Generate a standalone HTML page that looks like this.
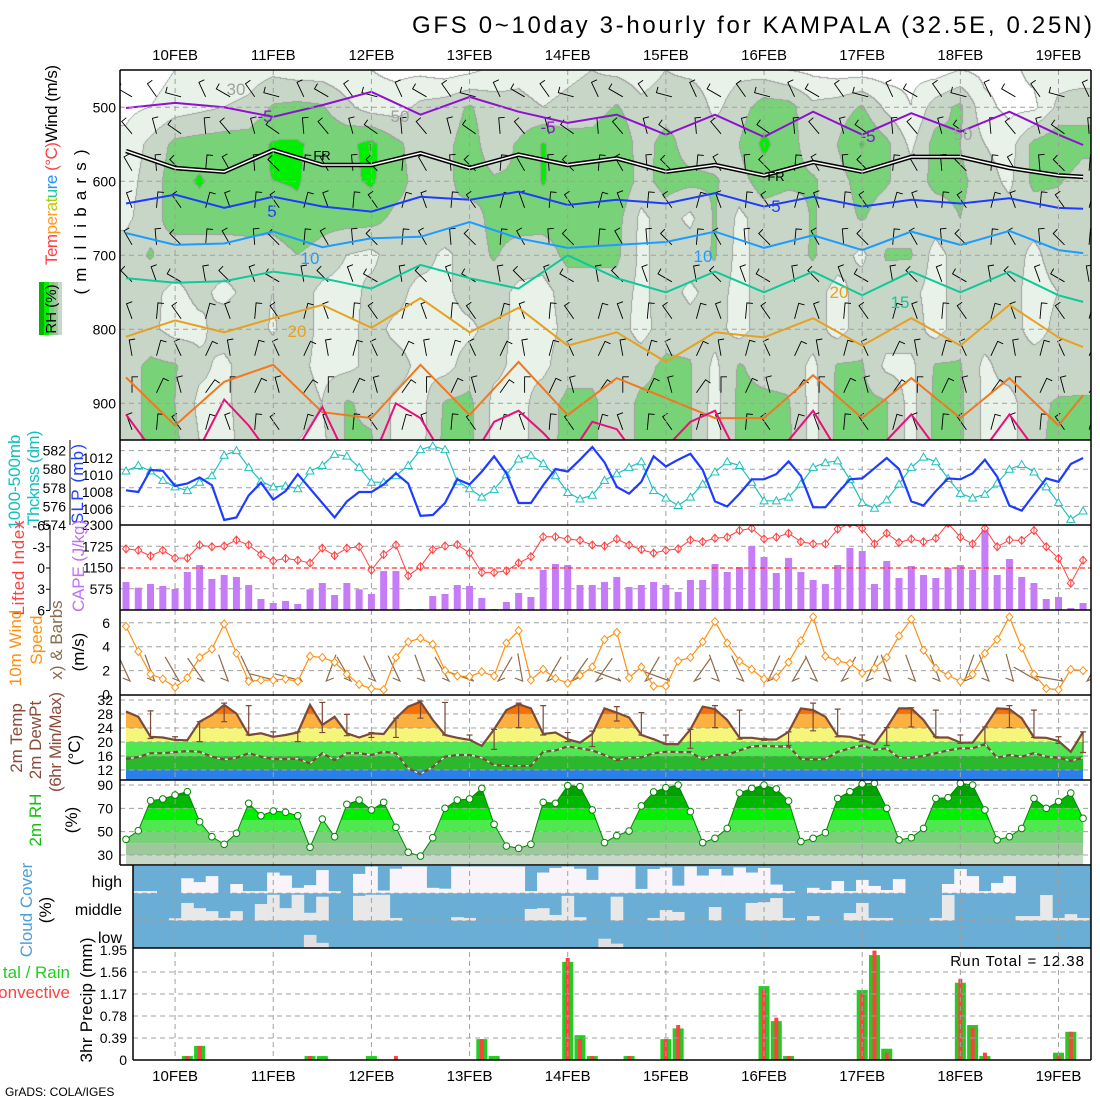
<!DOCTYPE html>
<html><head><meta charset="utf-8">
<style>
html,body{margin:0;padding:0;background:#fff;}
#wrap{position:relative;width:1100px;height:1100px;overflow:hidden;font-family:"Liberation Sans",sans-serif;}
#rhc{position:absolute;left:120px;top:70px;}
#chart{position:absolute;left:0;top:0;}
text{font-family:"Liberation Sans",sans-serif;}
</style></head>
<body>
<div id="wrap">
<canvas id="rhc" width="971" height="370"></canvas>
<svg id="chart" width="1100" height="1100" xmlns="http://www.w3.org/2000/svg">
<defs>
<clipPath id="cTop"><rect x="120" y="70" width="971" height="370"/></clipPath>
<clipPath id="cThk"><rect x="120" y="440" width="971" height="85"/></clipPath>
<clipPath id="cCape"><rect x="120" y="525" width="971" height="85"/></clipPath>
<clipPath id="cWind"><rect x="120" y="610" width="971" height="85"/></clipPath>
<clipPath id="cTemp"><rect x="120" y="695" width="971" height="85"/></clipPath>
<clipPath id="cRh"><rect x="120" y="780" width="971" height="85"/></clipPath>
</defs>
<text x="1092" y="33" text-anchor="end" font-family="Liberation Mono, monospace" font-size="24" textLength="680">GFS 0~10day 3-hourly for KAMPALA (32.5E, 0.25N)</text>

<g id="gTop"></g>
<g id="gThk"></g>
<g id="gCape"></g>
<g id="gWind"></g>
<g id="gTemp"></g>
<g id="gRh"></g>
<g id="gCloud"></g>
<g id="gPrec"></g>
<g id="gGrid"></g>
<g id="gSer"></g>
<g id="gAxes"></g>

<!-- left labels -->
<text transform="translate(57,165) rotate(-90)" text-anchor="middle" font-size="17" textLength="200"><tspan fill="#ff4040">Tem</tspan><tspan fill="#ff9a20">per</tspan><tspan fill="#b8c800">at</tspan><tspan fill="#20c8a0">u</tspan><tspan fill="#2090ff">re</tspan><tspan fill="#ff4040"> (°C)</tspan><tspan fill="#000">Wind (m/s)</tspan></text>
<text transform="translate(86,222) rotate(-90)" text-anchor="middle" font-size="17" textLength="145">(millibars)</text>
<g>
<rect x="39" y="282" width="5" height="53" fill="#00b400"/><rect x="44" y="282" width="5" height="53" fill="#00ee00"/><rect x="49" y="282" width="5" height="53" fill="#78d078"/><rect x="54" y="282" width="4" height="53" fill="#9cc89c"/><rect x="58" y="282" width="4" height="53" fill="#c8d8c8"/>
<text transform="translate(56,309) rotate(-90)" text-anchor="middle" font-size="15">RH (%)</text>
</g>
<text transform="translate(20,482) rotate(-90)" text-anchor="middle" font-size="17" fill="#10c0c0" textLength="95">1000-500mb</text>
<text transform="translate(39,478) rotate(-90)" text-anchor="middle" font-size="17" fill="#10c0c0" textLength="95">Thcknss (dm)</text>
<text transform="translate(83,484) rotate(-90)" text-anchor="middle" font-size="17" fill="#2040ff" textLength="80">SLP (mb)</text>
<text transform="translate(24,568) rotate(-90)" text-anchor="middle" font-size="17" fill="#ff4040" textLength="95">Lifted Index</text>
<text transform="translate(84,566) rotate(-90)" text-anchor="middle" font-size="17" fill="#c070f0" textLength="92">CAPE (J/kg)</text>
<text transform="translate(21,648) rotate(-90)" text-anchor="middle" font-size="17" fill="#ff9010">10m Wind</text>
<text transform="translate(42,640) rotate(-90)" text-anchor="middle" font-size="17" fill="#ff9010">Speed</text>
<text transform="translate(62,640) rotate(-90)" text-anchor="middle" font-size="17" fill="#8b6b4b">x) &amp; Barbs</text>
<text transform="translate(84,652) rotate(-90)" text-anchor="middle" font-size="17">(m/s)</text>
<text transform="translate(22,738) rotate(-90)" text-anchor="middle" font-size="17" fill="#8b4a3a">2m Temp</text>
<text transform="translate(41,740) rotate(-90)" text-anchor="middle" font-size="17" fill="#8b4a3a">2m DewPt</text>
<text transform="translate(61,742) rotate(-90)" text-anchor="middle" font-size="17" fill="#8b4a3a" textLength="100">(6hr Min/Max)</text>
<text transform="translate(80,750) rotate(-90)" text-anchor="middle" font-size="17">(°C)</text>
<text transform="translate(41,820) rotate(-90)" text-anchor="middle" font-size="17" fill="#10c010">2m RH</text>
<text transform="translate(77,820) rotate(-90)" text-anchor="middle" font-size="17">(%)</text>
<text transform="translate(32,910) rotate(-90)" text-anchor="middle" font-size="17" fill="#4aa0d8">Cloud Cover</text>
<text transform="translate(51,910) rotate(-90)" text-anchor="middle" font-size="17">(%)</text>
<text x="122" y="887" text-anchor="end" font-size="16">high</text>
<text x="122" y="915" text-anchor="end" font-size="16">middle</text>
<text x="122" y="943" text-anchor="end" font-size="16">low</text>
<text x="70" y="978" text-anchor="end" font-size="17" fill="#22cc22">tal / Rain</text>
<text x="70" y="998" text-anchor="end" font-size="17" fill="#ff4040">Convective</text>
<text transform="translate(92,1000) rotate(-90)" text-anchor="middle" font-size="17" textLength="125">3hr Precip (mm)</text>
<text x="1085" y="966" text-anchor="end" font-size="15" letter-spacing="1">Run Total = 12.38</text>
<text x="5" y="1096" font-size="12">GrADS: COLA/IGES</text>
</svg>
</div>
<script>
// ---------- data ----------
const days=['10FEB','11FEB','12FEB','13FEB','14FEB','15FEB','16FEB','17FEB','18FEB','19FEB'];
const dayIdx=[4,12,20,28,36,44,52,60,68,76];
const slp=[1008.2,1008.0,1010.6,1010.5,1008.7,1009.0,1009.7,1008.8,1004.7,1005.0,
1007.6,1009.1,1007.1,1008.1,1010.1,1008.4,1006.7,1005.0,1006.9,1008.0,
1008.0,1008.9,1010.2,1009.0,1005.2,1005.3,1006.7,1009.5,1008.9,1010.4,
1012.2,1010.2,1006.7,1006.7,1008.8,1010.7,1010.4,1011.8,1013.3,1011.5,
1008.6,1007.8,1009.2,1012.2,1011.0,1011.8,1012.5,1010.6,1006.9,1006.3,
1007.8,1009.5,1009.5,1010.1,1011.6,1009.9,1006.2,1006.2,1007.9,1009.5,
1009.6,1010.8,1012.0,1010.7,1006.9,1006.4,1008.1,1009.6,1009.5,1010.2,
1011.8,1009.8,1006.4,1005.8,1007.7,1009.6,1009.2,1011.3,1012.0];
const thick=[579.8,580.4,579.8,578.8,578.1,577.7,578.6,579.3,581.5,582.0,
580.2,578.7,578.1,578.2,577.9,579.8,580.4,581.6,581.4,580.2,
578.6,578.6,579.3,580.4,582.1,582.5,582.1,578.7,577.9,577.0,
577.8,579.4,581.1,581.5,580.6,579.3,577.5,576.8,577.2,578.8,
579.5,580.2,580.8,577.7,576.9,576.1,577.0,578.4,579.7,580.8,
580.4,578.6,576.6,576.6,577.0,578.4,580.2,580.7,580.9,578.9,
576.4,575.8,576.7,578.4,580.2,581.3,580.8,579.0,577.4,576.9,
577.3,578.5,580.0,580.5,579.7,578.1,576.4,574.6,575.5];
const cape=[757,604,703,649,568,1028,1218,839,947,893,
676,298,189,244,162,559,730,406,730,559,
433,1055,1055,27,27,379,433,676,649,325,
27,217,460,352,1082,1244,1218,676,676,757,
893,622,676,757,676,487,812,812,1244,1028,
1163,1731,1434,1001,1407,1028,812,703,1218,1677,
1596,703,1325,866,1190,947,866,1136,1218,1082,
2164,947,1380,893,730,298,352,54,189];
const li=[-2.7,-2.5,-1.7,-2.5,-1.4,-1.4,-3.25,-3.0,-3.1,-3.95,
-3.25,-1.9,-1.0,-1.35,-1.1,-0.7,-2.8,-1.75,-2.8,-3.0,
0.3,-1.9,-3.25,1.1,-0.2,-2.6,-3.1,-3.3,-2.1,0.65,
0.65,0.4,-0.7,-1.6,-4.4,-4.4,-4.1,-3.9,-3.25,-3.1,
-4.1,-3.25,-2.6,-2.1,-2.5,-2.7,-3.95,-3.7,-4.2,-4.35,
-5.3,-5.6,-4.1,-4.35,-4.9,-3.7,-3.4,-3.4,-5.5,-6.3,
-5.6,-3.4,-4.9,-3.6,-4.1,-3.7,-4.2,-6.3,-4.35,-3.4,
-5.6,-3.0,-3.95,-3.9,-5.3,-3.0,-1.35,2.15,-1.1];
const wspd=[5.7,3.6,1.7,1.3,0.6,1.4,3.1,3.8,5.9,3.45,
1.1,1.2,1.2,1.3,1.1,3.2,3.1,2.7,1.7,0.85,
0.5,0.4,3.1,4.4,4.7,4.2,2.0,1.55,1.5,1.9,
1.55,4.3,5.35,1.2,2.1,1.35,0.95,1.6,2.3,4.6,
5.2,1.4,2.3,0.7,0.7,2.8,3.1,4.4,6.1,4.3,
2.8,2.1,1.3,1.45,2.7,4.5,6.5,3.2,2.8,2.6,
1.8,2.2,3.1,4.9,6.3,3.7,2.2,1.6,1.1,1.7,
3.45,4.6,6.5,3.9,1.7,0.5,0.4,2.1,2.0];
const sfcBarbDir=[-25,-20,-30,-35,-20,-25,-75,-75,20,-30,-25,-25,-20,-30,-70,30,-10,30,35,35,-70,30,-70,35,-20,-25,25,30,-25,30,25,-20,-20,-20,20,-20,-15,-60,-80,30];
const temp=[28.7,27.2,21.5,21.3,20.6,20.5,25.8,27.7,30.6,28.1,
22.0,22.5,21.5,22.0,22.7,30.6,24.9,27.2,22.5,21.3,
22.5,22.3,26.8,30.1,31.5,26.3,22.0,21.2,20.6,18.9,
23.6,29.1,30.8,29.6,22.3,22.7,20.8,19.8,22.3,29.6,
28.4,27.0,22.0,20.8,19.4,19.4,23.6,30.1,29.4,26.3,
21.2,21.2,20.7,20.7,22.9,29.6,29.1,27.2,21.7,21.5,
20.6,19.4,24.1,29.6,29.6,26.3,21.3,21.3,19.8,19.8,
24.3,29.6,29.4,26.8,21.3,21.2,20.3,17.2,22.9];
const dewp=[15.1,15.7,16.8,16.8,17.1,17.4,17.2,15.8,15.0,15.5,
16.8,15.8,15.1,15.1,15.2,13.9,16.8,14.8,16.8,16.8,
16.3,17.2,16.8,12.5,10.8,12.9,15.8,16.3,16.3,15.5,
13.4,13.2,13.2,13.2,17.2,17.6,18.7,18.2,17.6,16.3,
14.8,15.5,15.6,16.8,17.2,17.1,17.1,15.0,16.3,16.3,
17.6,18.7,18.9,18.7,18.7,15.1,15.0,15.1,17.2,18.2,
19.0,17.8,18.2,15.5,15.5,16.0,16.8,17.6,18.2,18.2,
19.4,15.5,16.3,15.8,16.8,15.8,15.5,14.6,15.5];
const tmax6=[28.9,21.5,25.8,31.1,30.4,22.9,22.9,31.3,27.9,22.7,26.8,31.7,31.3,22.0,23.6,31.1,30.4,22.7,23.1,30.1,28.4,22.0,23.6,30.4,29.1,21.0,22.9,31.1,29.4,22.0,24.1,29.8,29.1,22.0,24.3,30.4,29.1,21.5,22.9];
const tmin6=[21.0,20.6,20.1,25.8,22.0,21.5,20.1,22.7,21.8,21.3,21.3,26.8,22.0,20.6,17.9,24.1,22.0,20.1,18.7,26.0,22.0,19.4,18.2,24.1,20.8,20.5,19.0,23.2,21.5,20.1,19.0,24.3,21.5,19.6,19.0,24.1,21.3,19.6,17.0];
const rh2m=[43.4,50.8,76.5,78.0,81.4,84.3,58.5,45.7,39.2,48.6,
74.3,63.7,67.7,66.6,63.7,36.6,60.8,45.7,73.4,77.1,
68.6,75.2,53.7,32.3,29.1,44.8,70.0,77.1,78.0,87.1,
56.3,37.7,35.7,39.2,75.2,74.3,89.4,88.6,68.6,40.6,
46.6,50.5,72.0,84.0,87.7,89.9,67.2,40.6,44.3,52.8,
83.1,87.1,89.9,86.6,76.3,41.5,44.3,49.1,78.5,84.3,
90.9,91.4,70.0,42.9,44.8,52.8,78.5,79.1,91.4,89.9,
68.6,42.9,45.7,52.8,78.5,70.0,75.8,83.1,61.4];
const cloudHigh=[0,8,8,0,0,55,41,63,0,34,
8,8,76,65,20,30,85,8,0,71,
98,10,90,98,98,20,17,98,98,98,
98,98,98,8,76,93,98,90,49,98,
98,98,16,89,95,28,98,65,89,65,
95,76,93,32,8,0,20,12,45,8,
49,27,12,52,0,0,0,34,89,63,
8,38,63,0,0,0,0,0,0];
const cloudMid=[0,0,0,0,9,65,46,35,10,35,
0,61,95,46,95,29,88,0,0,91,
95,95,10,0,0,0,0,13,10,0,
0,0,0,43,46,21,91,13,0,0,
88,0,0,10,39,32,0,0,50,0,
0,65,68,83,10,0,17,0,0,28,
65,10,10,0,0,0,10,94,0,0,
0,0,0,17,17,94,10,24,10];
const cloudLow=[0,0,0,0,0,0,0,0,0,0,
0,0,0,0,0,48,19,0,0,0,
0,0,0,0,0,0,0,0,0,0,
0,0,0,0,0,0,0,0,0,34,
16,0,0,0,0,0,0,0,0,0,
0,0,0,0,0,0,0,0,0,0,
0,0,0,0,0,0,0,0,0,0,
0,0,0,0,0,0,0,0,0];
const precTotal=[0,0,0,0,0,.07,.25,0,0,0,
0,0,0,0,0,.07,.07,0,0,0,
.07,0,0,0,0,0,0,0,0,.37,
.07,0,0,0,0,0,1.74,.44,.07,0,
0,.07,0,0,.37,.56,0,0,0,0,
0,0,1.31,.69,.07,0,0,0,0,0,
1.24,1.86,.2,0,0,0,0,0,1.37,.62,
.07,0,0,0,0,0,.13,.5,0];
const precConv=[0,0,0,0,0,.07,.25,0,0,0,
0,0,0,0,0,.07,0,0,0,0,
0,0,.07,0,0,0,0,0,0,.37,
0,0,0,0,0,0,1.81,.37,.07,0,
0,.07,0,0,.37,.62,0,0,0,0,
0,0,1.24,.75,.07,0,0,0,0,0,
1.18,1.94,.13,0,0,0,0,0,1.44,.57,
.13,0,0,0,0,0,.07,.5,0];
// cross-section RH (rows = pressure levels, cols = every 6h)
const rhLevels=[450,500,550,600,650,700,750,800,850,900,950];
const rh450=[20,20,30,40,35,40,45,40,40,35,30,25,25,20,25,35,45,40,45,50,45,40,50,45,40,45,40,30,25,20,20,20,25,20,30,25,25,35,40,35];
const rh500=[25,30,40,45,50,55,72,75,72,55,40,40,55,60,72,60,55,50,55,60,72,55,60,65,45,60,80,78,55,60,72,45,30,60,75,35,25,25,55,65];
const rh550=[35,55,75,78,80,80,92,92,85,85,96,75,60,65,78,60,72,92,80,78,90,60,78,60,60,70,95,78,60,70,92,75,45,78,70,50,40,75,85,75];
const rh600=[40,60,80,93,80,88,90,92,80,85,93,78,62,65,78,72,72,92,80,75,90,62,78,75,72,62,80,75,72,62,78,72,60,75,75,60,45,75,72,62];
const rh650=[45,62,78,78,78,78,78,85,78,78,78,65,62,70,62,75,78,78,78,78,78,45,60,45,72,45,60,55,72,60,72,60,60,60,70,60,60,58,60,60];
const rh700=[60,72,60,60,60,62,60,70,62,50,45,60,60,45,60,72,62,60,75,75,75,45,60,62,72,42,60,60,72,60,45,72,72,42,60,60,60,45,60,60];
const rh750=[60,55,45,55,45,55,50,60,45,42,55,58,42,45,60,60,45,42,60,60,60,45,60,45,60,42,60,60,60,42,60,60,55,42,60,60,58,42,50,60];
const rh800=[60,55,42,45,60,60,48,60,45,42,58,45,42,42,45,58,45,42,55,60,60,42,60,60,58,42,60,60,60,42,60,60,60,42,60,60,60,42,55,60];
const rh850=[60,75,72,55,45,60,60,55,45,45,55,58,45,42,60,55,45,45,62,62,60,62,75,72,45,72,62,62,45,72,72,45,45,72,72,45,60,60,60,62];
const rh900=[60,75,70,45,45,60,60,58,50,72,65,45,42,72,75,45,42,60,75,75,55,75,75,72,42,75,75,72,42,75,75,72,42,75,75,45,42,65,72,72];
const rh950=[60,75,75,50,42,60,60,50,45,72,72,45,42,75,75,45,42,62,75,75,55,75,75,72,42,75,75,75,42,75,75,72,42,75,75,45,42,65,75,75];
// isotherms: pressure (mb) at time indices
const isoIdx=[0,4,8,12,16,20,24,28,32,36,40,44,48,52,56,60,64,68,72,76,78];
const isoM5=[501,494,500,513,497,479,510,486,506,521,510,537,510,540,506,537,508,533,506,537,551];
const isoFR=[559,582,587,558,578,578,562,582,564,578,569,587,578,592,574,587,567,567,582,592,594];
const isoP5=[630,618,636,621,634,641,621,625,614,632,625,630,616,634,621,634,625,630,623,636,637];
const isoP10=[670,686,684,668,689,677,675,655,677,690,686,682,668,690,673,693,668,686,667,693,697];
const isoP15=[731,737,735,722,731,745,713,731,745,700,731,750,722,750,722,754,722,750,722,754,763];
const isoP20=[810,788,804,785,767,798,758,804,771,822,804,844,804,811,785,822,785,822,767,811,824];
const isoP25=[865,930,871,848,912,920,848,916,844,916,866,893,920,920,862,920,866,920,866,930,889];
const isoP30=[915,960,980,960,895,930,975,960,905,975,980,900,920,975,980,925,910,940,975,925,935,980,960,925,910,975,980,950,910,965,980,950,915,960,980,960,915,960,980,980];
const topBarbDir=[-60,-40,-30,-20,-30,-45,-20,-10,0,-20];
const barbWiggle=[0,25,-15,35];

// ---------- helpers ----------
const NS='http://www.w3.org/2000/svg';
function mk(tag,attrs,parent){const e=document.createElementNS(NS,tag);for(const k in attrs)e.setAttribute(k,attrs[k]);parent.appendChild(e);return e;}
const X0=126, DX=12.27;
function xAt(i){return X0+DX*i;}
const yP=p=>107.3+(p-500)*0.74;
const ySlp=v=>475-(v-1010)*8.5;
const yThk=v=>525-(v-574)*9.3;
const yCape=v=>610-v/2300*85;
const yLi=v=>568+v*7.08;
const yW=v=>694.5-v*11.95;
const yT=v=>742-(v-20)*3.5;
const yRh=v=>855-(v-30)*1.167;
const yPr=v=>1060-v*56.4;
const gTop=document.getElementById('gTop'),gThk=document.getElementById('gThk'),gCape=document.getElementById('gCape'),gWind=document.getElementById('gWind'),gTemp=document.getElementById('gTemp'),gRh=document.getElementById('gRh'),gCloud=document.getElementById('gCloud'),gPrec=document.getElementById('gPrec'),gGrid=document.getElementById('gGrid'),gSer=document.getElementById('gSer'),gAxes=document.getElementById('gAxes');
const GRID='#a0a0a0';

// ---------- RH cross-section field (canvas) ----------
(function(){
  const grid=[rh450,rh500,rh550,rh600,rh650,rh700,rh750,rh800,rh850,rh900,rh950];
  const cols=[[255,255,255],[232,242,232],[200,214,200],[120,210,120],[0,238,0],[0,176,0]];
  function band(v){return v<30?0:v<50?1:v<70?2:v<90?3:v<95?4:5;}
  const cv=document.getElementById('rhc');const ctx=cv.getContext('2d');
  const W=cv.width,H=cv.height;const img=ctx.createImageData(W,H);const b=new Uint8Array(W*H);
  const nc=grid[0].length-1, nr=grid.length-1;
  for(let cy=0;cy<H;cy++){
    const y=70+cy+0.5; const p=500+(y-107.3)/0.74;
    let r=(p-rhLevels[0])/50; r=Math.max(0,Math.min(nr,r)); const r0=Math.min(nr-1,Math.floor(r)), fr=r-r0;
    for(let cx=0;cx<W;cx++){
      const x=120+cx+0.5; let c=(x-X0)/(DX*2); c=Math.max(0,Math.min(nc,c));
      const c0=Math.min(nc-1,Math.floor(c)), fc=c-c0;
      const v=(grid[r0][c0]*(1-fc)+grid[r0][c0+1]*fc)*(1-fr)+(grid[r0+1][c0]*(1-fc)+grid[r0+1][c0+1]*fc)*fr;
      b[cy*W+cx]=band(v);
    }
  }
  for(let cy=0;cy<H;cy++)for(let cx=0;cx<W;cx++){
    const k=cy*W+cx; let col=cols[b[k]];
    if((cx<W-1&&b[k]!==b[k+1])||(cy<H-1&&b[k]!==b[k+W])) col=[160,160,160];
    img.data[k*4]=col[0];img.data[k*4+1]=col[1];img.data[k*4+2]=col[2];img.data[k*4+3]=255;
  }
  ctx.putImageData(img,0,0);
})();

// ---------- top panel: isotherms & barbs ----------
(function(){
  const clip=mk('g',{'clip-path':'url(#cTop)'},gTop);
  
  
  // barbs
  for(let li2=0;li2<10;li2++){
    const p=475+50*li2;
    for(let j=0;j<40;j++){
      const bx=xAt(2*j)+6, by=yP(p)+8;
      const a=(topBarbDir[li2]+barbWiggle[j%4])*Math.PI/180;
      const tx=bx+16*Math.sin(a), ty=by-16*Math.cos(a);
      const fx=tx+6*Math.cos(a), fy=ty+6*Math.sin(a);
      const e=mk('path',{d:`M${bx.toFixed(1)},${by.toFixed(1)}L${tx.toFixed(1)},${ty.toFixed(1)}L${fx.toFixed(1)},${fy.toFixed(1)}`,stroke:'#000','stroke-width':0.9,fill:'none'},clip);
      
      
    }
  }
  function iso(arr,idx,color,w,name){
    const pts=arr.map((p,k)=>xAt(idx[k]).toFixed(1)+','+yP(p).toFixed(1)).join(' ');
    if(name==='isotherm-freezing'){
      const e0=mk('polyline',{points:pts,fill:'none',stroke:'#000','stroke-width':4.5},clip);
      
      
      const e1=mk('polyline',{points:pts,fill:'none',stroke:'#fff','stroke-width':1.5},clip);
      
      
      return;
    }
    const e=mk('polyline',{points:pts,fill:'none',stroke:color,'stroke-width':w},clip);
    
    
  }
  const idx2=isoP30.map((_,k)=>2*k);
  iso(isoM5,isoIdx,'#9010d0',2,'isotherm-minus5');
  iso(isoFR,isoIdx,'#000',2,'isotherm-freezing');
  iso(isoP5,isoIdx,'#1e3cff',2,'isotherm-5');
  iso(isoP10,isoIdx,'#1e9bff',2,'isotherm-10');
  iso(isoP15,isoIdx,'#10c898',2,'isotherm-15');
  iso(isoP20,isoIdx,'#e8a020',2,'isotherm-20');
  iso(isoP25,isoIdx,'#f07820',2,'isotherm-25');
  iso(isoP30,idx2,'#e8107a',2,'isotherm-30');
  const labs=[['-5',265,122,'#9010d0'],['-5',548,133,'#9010d0'],['-5',868,142,'#9010d0'],['FR',322,160,'#000'],['FR',776,181,'#000'],['5',272,217,'#1e3cff'],['5',776,212,'#1e3cff'],['10',310,264,'#1e9bff'],['10',703,262,'#1e9bff'],['20',297,337,'#e8a020'],['20',839,298,'#e8a020'],['15',900,308,'#10c898'],['30',236,95,'#a0a0a0'],['50',400,122,'#a0a0a0'],['50',963,140,'#a0a0a0']];
  labs.forEach(l=>{
    const t=mk('text',{x:l[1],y:l[2],'text-anchor':'middle','font-size':l[0]==='FR'?13:17,fill:l[3]},clip);
    t.textContent=l[0];
    
    
  });
})();

// ---------- grid lines ----------
(function(){
  dayIdx.forEach((d,k)=>{
    const x=xAt(d);
    const e=mk('line',{x1:x,y1:70,x2:x,y2:1060,stroke:GRID,'stroke-dasharray':'5,4','stroke-width':1},gGrid);
    
    
    const t1=mk('text',{x:x,y:60,'text-anchor':'middle','font-size':15},gAxes);
    t1.textContent=days[k];
    
    
    const t2=mk('text',{x:x,y:1081,'text-anchor':'middle','font-size':15},gAxes);
    t2.textContent=days[k];
    
    
  });
  function hline(y,x0,name){
    const e=mk('line',{x1:x0,y1:y,x2:1091,y2:y,stroke:GRID,'stroke-dasharray':'5,4','stroke-width':1},gGrid);
    
    
  }
  [500,600,700,800,900].forEach(p=>hline(yP(p),120,'pressure-gridline'));
  [582,580,578,576].forEach(v=>hline(yThk(v),120,'thickness-gridline'));
  [1725,575].forEach(v=>hline(yCape(v),120,'cape-gridline'));
  [2,4,6].forEach(v=>hline(yW(v),120,'wind-gridline'));
  [12,16,20,24,28,32].forEach(v=>hline(yT(v),120,'temp-gridline'));
  [30,50,70,90].forEach(v=>hline(yRh(v),120,'rh-gridline'));
  [893.3,920.7,948].forEach(v=>hline(v,133,'cloud-gridline'));
  [0.39,0.78,1.17,1.56].forEach(v=>hline(yPr(v),133,'precip-gridline'));
})();

// ---------- thickness / SLP ----------
(function(){
  const g=mk('g',{'clip-path':'url(#cThk)'},gSer);
  
  
  const tl=mk('polyline',{points:thick.map((v,i)=>xAt(i).toFixed(1)+','+yThk(v).toFixed(1)).join(' '),fill:'none',stroke:'#20c0c0','stroke-width':1.2},g);
  
  
  thick.forEach((v,i)=>{
    const x=xAt(i),y=yThk(v);
    const m=mk('path',{d:`M${x-4},${y+3}L${x},${y-4}L${x+4},${y+3}Z`,fill:'#fff',stroke:'#20c0c0','stroke-width':1},g);
    
    
  });
  const sl=mk('polyline',{points:slp.map((v,i)=>xAt(i).toFixed(1)+','+ySlp(v).toFixed(1)).join(' '),fill:'none',stroke:'#1e3cff','stroke-width':2.2},g);
  
  
})();

// ---------- CAPE / LI ----------
(function(){
  const g=mk('g',{'clip-path':'url(#cCape)'},gSer);
  
  
  cape.forEach((v,i)=>{
    const y=yCape(v);
    const r=mk('rect',{x:xAt(i)-3.5,y:y,width:7,height:610-y,fill:'#c67cf6'},g);
    
    
  });
  const z=mk('line',{x1:120,y1:yLi(0),x2:1091,y2:yLi(0),stroke:'#ff3030','stroke-dasharray':'5,3','stroke-width':1.3},g);
  
  
  const l=mk('polyline',{points:li.map((v,i)=>xAt(i).toFixed(1)+','+yLi(v).toFixed(1)).join(' '),fill:'none',stroke:'#ff4040','stroke-width':1},g);
  
  
  li.forEach((v,i)=>{
    const x=xAt(i),y=yLi(v);
    const m=mk('path',{d:`M${x},${y-4}L${x+3.5},${y}L${x},${y+4}L${x-3.5},${y}ZM${x},${y-4}V${y+4}`,fill:'#fff',stroke:'#ff4040','stroke-width':1},g);
    
    
  });
})();

// ---------- wind ----------
(function(){
  const g=mk('g',{'clip-path':'url(#cWind)'},gSer);
  
  
  sfcBarbDir.forEach((d,k)=>{
    const bx=xAt(2*k)+4, by=681;
    const a=d*Math.PI/180;
    const tx=bx+28*Math.sin(a), ty=by-28*Math.cos(a);
    const fx=bx+8*Math.cos(a)*(d<0?-1:1), fy=by;
    const e=mk('path',{d:`M${tx.toFixed(1)},${ty.toFixed(1)}L${bx.toFixed(1)},${by}L${fx.toFixed(1)},${fy-3}`,stroke:'#8b6b4b','stroke-width':1.2,fill:'none'},g);
    
    
  });
  const l=mk('polyline',{points:wspd.map((v,i)=>xAt(i).toFixed(1)+','+yW(v).toFixed(1)).join(' '),fill:'none',stroke:'#ff9010','stroke-width':1.2},g);
  
  
  wspd.forEach((v,i)=>{
    const x=xAt(i),y=yW(v);
    const m=mk('path',{d:`M${x},${y-4}L${x+3.5},${y}L${x},${y+4}L${x-3.5},${y}Z`,fill:'#fff',stroke:'#ff9010','stroke-width':1},g);
    
    
  });
})();

// ---------- temperature ----------
(function(){
  const defs=document.querySelector('defs');
  const cp=mk('clipPath',{id:'cTempArea'},defs);
  const area='M'+xAt(0)+',780 '+temp.map((v,i)=>'L'+xAt(i).toFixed(1)+','+yT(v).toFixed(1)).join(' ')+' L'+xAt(78)+',780Z';
  mk('path',{d:area},cp);
  const g=mk('g',{'clip-path':'url(#cTempArea)'},gTemp);
  
  
  const bands=[[8,12,'#2a80e8'],[12,16,'#2cb82c'],[16,20,'#50e850'],[20,24,'#f5f57a'],[24,28,'#fbb040'],[28,40,'#f87000']];
  bands.forEach(b=>{
    const r=mk('rect',{x:120,y:yT(b[1]),width:971,height:yT(b[0])-yT(b[1]),fill:b[2]},g);
    
    
  });
  const s=mk('g',{'clip-path':'url(#cTemp)'},gSer);
  
  
  tmax6.forEach((v,k)=>{
    const x=xAt(2*k+2), y1=yT(v), y2=yT(tmin6[k]);
    const e=mk('path',{d:`M${x},${y1}V${y2}M${x-3},${y1}H${x+3}M${x-3},${y2}H${x+3}`,stroke:'#7a4a3a','stroke-width':1.2,fill:'none'},s);
    
    
  });
  const dpts=dewp.map((v,i)=>xAt(i).toFixed(1)+','+yT(v).toFixed(1)).join(' ');
  const dw=mk('polyline',{points:dpts,fill:'none',stroke:'#fff','stroke-width':1},s);
  
  
  const d=mk('polyline',{points:dpts,fill:'none',stroke:'#7a4a3a','stroke-width':2.2,'stroke-dasharray':'5,3'},s);
  
  
  const t=mk('polyline',{points:temp.map((v,i)=>xAt(i).toFixed(1)+','+yT(v).toFixed(1)).join(' '),fill:'none',stroke:'#7a4a3a','stroke-width':2.2},s);
  
  
})();

// ---------- 2m RH ----------
(function(){
  const defs=document.querySelector('defs');
  const cp=mk('clipPath',{id:'cRhArea'},defs);
  const area='M'+xAt(0)+',865 '+rh2m.map((v,i)=>'L'+xAt(i).toFixed(1)+','+yRh(v).toFixed(1)).join(' ')+' L'+xAt(78)+',865Z';
  mk('path',{d:area},cp);
  const g=mk('g',{'clip-path':'url(#cRhArea)'},gRh);
  
  
  const bands=[[0,30,'#c8d8c8'],[30,40,'#9cc89c'],[40,50,'#78d078'],[50,60,'#50e850'],[60,70,'#00f000'],[70,80,'#00b800'],[80,100,'#00a000']];
  bands.forEach(b=>{
    const r=mk('rect',{x:120,y:yRh(b[1]),width:971,height:yRh(b[0])-yRh(b[1]),fill:b[2]},g);
    
    
  });
  const s=mk('g',{'clip-path':'url(#cRh)'},gSer);
  
  
  const l=mk('polyline',{points:rh2m.map((v,i)=>xAt(i).toFixed(1)+','+yRh(v).toFixed(1)).join(' '),fill:'none',stroke:'#008800','stroke-width':1},s);
  
  
  rh2m.forEach((v,i)=>{
    const c=mk('circle',{cx:xAt(i),cy:yRh(v),r:3.3,fill:'#fff',stroke:'#008800','stroke-width':1},s);
    
    
  });
})();

// ---------- cloud cover ----------
(function(){
  const bg=mk('rect',{x:133,y:866,width:958,height:82,fill:'#6aaed6'},gCloud);
  
  
  const rows=[[cloudHigh,893.3,'#f8f4fa','cloud-high-bar'],[cloudMid,920.7,'#e8e8e8','cloud-middle-bar'],[cloudLow,948,'#e0e0e0','cloud-low-bar']];
  rows.forEach(rw=>{
    rw[0].forEach((v,i)=>{
      if(i<1||v<=0)return;
      const h=v/100*27.3;
      const r=mk('rect',{x:xAt(i-0.5),y:rw[1]-h,width:DX+0.3,height:h,fill:rw[2]},gCloud);
      
      
    });
  });
})();

// ---------- precip ----------
(function(){
  precTotal.forEach((v,i)=>{
    if(v<=0)return;
    const y=yPr(v);
    const r=mk('rect',{x:xAt(i)-5.5,y:y,width:11,height:1060-y,fill:'#22cc22'},gPrec);
    
    
  });
  precConv.forEach((v,i)=>{
    if(v<=0)return;
    const y=yPr(v);
    const r=mk('rect',{x:xAt(i)-2,y:y,width:4,height:1060-y,fill:'#ff4040'},gPrec);
    
    
  });
})();

// ---------- axes, ticks, borders ----------
(function(){
  function txt(x,y,s,name,anchor){
    const t=mk('text',{x:x,y:y,'text-anchor':anchor||'end','font-size':14},gAxes);
    t.textContent=s;
    
    
  }
  [500,600,700,800,900].forEach(p=>txt(116,yP(p)+5,String(p),'pressure-tick'));
  [582,580,578,576,574].forEach(v=>txt(66,yThk(v)+5,String(v),'thickness-tick'));
  [1012,1010,1008,1006].forEach(v=>txt(113,ySlp(v)+5,String(v),'slp-tick'));
  [[-6,'-6'],[-3,'-3'],[0,'0'],[3,'3'],[6,'6']].forEach(v=>txt(45,yLi(v[0])+5,v[1],'li-tick'));
  [2300,1725,1150,575].forEach(v=>txt(113,yCape(v)+5,String(v),'cape-tick'));
  [6,4,2,0].forEach(v=>txt(110,yW(v)+5,String(v),'wind-tick'));
  [32,28,24,20,16,12].forEach(v=>txt(113,yT(v)+5,String(v),'temp-tick'));
  [90,70,50,30].forEach(v=>txt(113,yRh(v)+5,String(v),'rh-tick'));
  [['1.95',1.95],['1.56',1.56],['1.17',1.17],['0.78',0.78],['0.39',0.39],['0',0]].forEach(v=>txt(127,yPr(v[1])+5,v[0],'precip-tick'));
  function ln(x1,y1,x2,y2,name,w){
    const e=mk('line',{x1:x1,y1:y1,x2:x2,y2:y2,stroke:'#000','stroke-width':w||1.5},gAxes);
    
    
  }
  // panel borders
  ln(120,70,1091,70,'top-border');
  ln(120,70,120,865,'left-border');
  ln(1091,70,1091,1060,'right-border');
  [440,525,610,695,780,865].forEach(y=>ln(120,y,1091,y,'panel-divider'));
  ln(133,865,133,1060,'lower-left-border');
  ln(133,948,1091,948,'precip-top-border');
  ln(133,1060,1091,1060,'precip-bottom-axis');
  ln(70,440,70,525,'thickness-axis',1);
  ln(50,525,50,610,'li-axis',1);
  [-6,-3,0,3,6].forEach(v=>ln(46,yLi(v),50,yLi(v),'li-axis-tick',1));
})();
</script>
</body></html>
